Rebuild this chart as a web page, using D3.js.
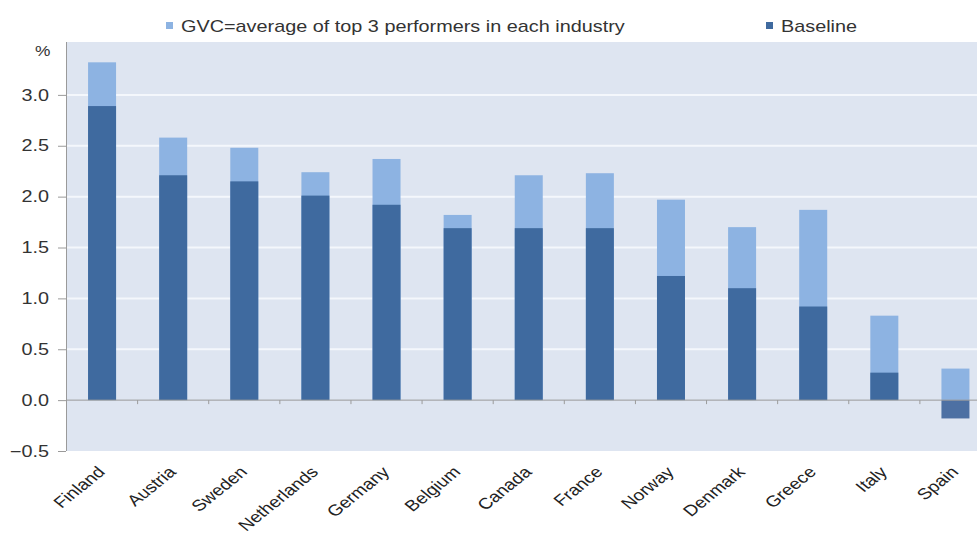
<!DOCTYPE html>
<html>
<head>
<meta charset="utf-8">
<script src="https://cdn.jsdelivr.net/npm/d3@7/dist/d3.min.js"></script>
<style>
  html, body { margin: 0; padding: 0; background: #ffffff; }
  svg { display: block; font-family: "Liberation Sans", Arial, sans-serif; }
</style>
</head>
<body>
<svg id="chart" width="977" height="534"></svg>
<script>
// Countries, ordered by baseline effect
const countries = ["Finland", "Austria", "Sweden", "Netherlands", "Germany", "Belgium",
                   "Canada", "France", "Norway", "Denmark", "Greece", "Italy", "Spain"];
// Scenario: GVC participation raised to the average of the top 3 performers in each industry
const gvcValues = [3.32, 2.58, 2.48, 2.24, 2.37, 1.82, 2.21, 2.23, 1.97, 1.70, 1.87, 0.83, 0.31];
// Baseline
const baselineValues = [2.89, 2.21, 2.15, 2.01, 1.92, 1.69, 1.69, 1.69, 1.22, 1.10, 0.92, 0.27, -0.18];
const yTicks = [-0.5, 0.0, 0.5, 1.0, 1.5, 2.0, 2.5, 3.0];
const seriesNames = ["GVC=average of top 3 performers in each industry", "Baseline"];

const colors = { gvc: "#8db3e2", base: "#3f6a9f", plotBg: "#dee5f1", axis: "#9a9a9a", text: "#333333" };
// text is drawn slightly widened
const stretch = 1.24;

const svg = d3.select("#chart");
const plot = { left: 66, right: 991, top: 42, bottom: 451 };

const x = d3.scaleBand().domain(countries).range([plot.left + 0.5, plot.right]).paddingInner(0).paddingOuter(0);
const y = d3.scaleLinear().domain([-0.5, 3.5]).range([plot.bottom, plot.top + 2]);
const barW = 28;

// plot area background
svg.append("rect")
  .attr("x", plot.left).attr("y", plot.top)
  .attr("width", 977 - plot.left).attr("height", plot.bottom - plot.top)
  .attr("fill", colors.plotBg);

// horizontal gridlines
svg.append("g").selectAll("line")
  .data(yTicks.filter(d => d !== 0 && d !== -0.5))
  .join("line")
  .attr("x1", plot.left).attr("x2", 977)
  .attr("y1", d => y(d)).attr("y2", d => y(d))
  .attr("stroke", "#f4f7fc").attr("stroke-width", 2);

// GVC scenario bars (behind)
svg.append("g").selectAll("rect")
  .data(countries)
  .join("rect")
  .attr("x", d => x(d) + x.bandwidth() / 2 - barW / 2)
  .attr("width", barW)
  .attr("y", (d, i) => y(Math.max(0, gvcValues[i])))
  .attr("height", (d, i) => Math.abs(y(gvcValues[i]) - y(0)))
  .attr("fill", colors.gvc);

// baseline bars (front)
svg.append("g").selectAll("rect")
  .data(countries)
  .join("rect")
  .attr("x", d => x(d) + x.bandwidth() / 2 - barW / 2)
  .attr("width", barW)
  .attr("y", (d, i) => y(Math.max(0, baselineValues[i])))
  .attr("height", (d, i) => Math.abs(y(baselineValues[i]) - y(0)))
  .attr("fill", (d, i) => baselineValues[i] < 0 ? "#4d70a3" : colors.base);

// zero line with category ticks
svg.append("line")
  .attr("x1", plot.left).attr("x2", 977)
  .attr("y1", y(0)).attr("y2", y(0))
  .attr("stroke", colors.axis).attr("stroke-width", 1);
svg.append("g").selectAll("line")
  .data(countries.slice(1))
  .join("line")
  .attr("x1", d => x(d)).attr("x2", d => x(d))
  .attr("y1", y(0)).attr("y2", y(0) + 4)
  .attr("stroke", colors.axis);

// y axis
const yAxis = d3.axisLeft(y).tickValues(yTicks).tickFormat(d3.format(".1f")).tickSize(8).tickPadding(9);
const gy = svg.append("g").attr("transform", `translate(${plot.left},0)`).call(yAxis);
gy.select(".domain").attr("stroke", colors.axis).attr("d", `M0.5,${plot.top}V${plot.bottom}`);
gy.selectAll(".tick line").attr("stroke", colors.axis);
gy.selectAll(".tick text")
  .attr("fill", colors.text).attr("font-size", 16)
  .attr("font-family", "'Liberation Sans', Arial, sans-serif")
  .attr("transform", `translate(-17,0) scale(${stretch},1)`)
  .attr("x", 0);

svg.append("text")
  .attr("transform", `translate(35,56) scale(${stretch},1)`)
  .attr("font-size", 14).attr("fill", colors.text).text("%");

// category labels
svg.append("g").selectAll("text")
  .data(countries)
  .join("text")
  .attr("transform", d => `translate(${x(d) + x.bandwidth() / 2 + 4},${plot.bottom + 22}) scale(${stretch},1) rotate(-45)`)
  .attr("text-anchor", "end")
  .attr("font-size", 15.5)
  .attr("fill", "#222")
  .text(d => d);

// legend
const legendItems = [
  { name: seriesNames[0], color: colors.gvc, x: 166 },
  { name: seriesNames[1], color: colors.base, x: 766 }
];
const lg = svg.append("g").selectAll("g").data(legendItems).join("g")
  .attr("transform", d => `translate(${d.x},22)`);
lg.append("rect").attr("width", 7).attr("height", 7).attr("fill", d => d.color);
lg.append("text")
  .attr("transform", `translate(15,10) scale(${stretch},1)`)
  .attr("font-size", 16).attr("fill", colors.text).text(d => d.name);
</script>
</body>
</html>
